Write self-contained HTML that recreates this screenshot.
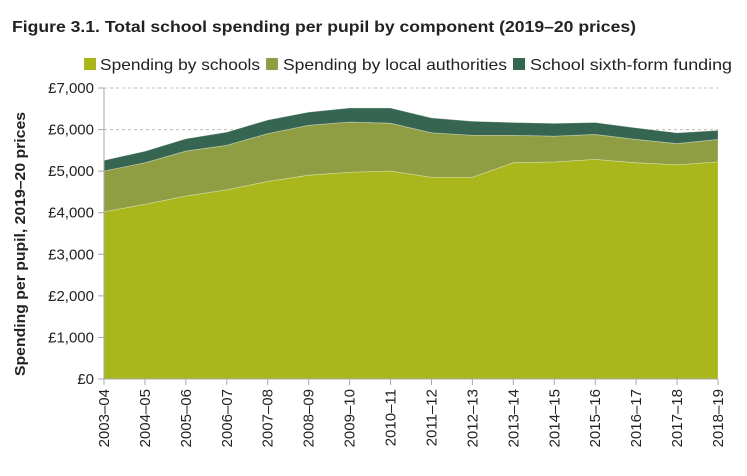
<!DOCTYPE html>
<html><head><meta charset="utf-8"><style>
body{margin:0;background:#fff;font-family:"Liberation Sans",sans-serif;}
svg text{font-family:"Liberation Sans",sans-serif;}
</style></head><body>
<svg id="chart" width="747" height="471">
<text x="12" y="32" font-size="16" font-weight="bold" fill="#222" textLength="624" lengthAdjust="spacingAndGlyphs">Figure 3.1.  Total school spending per pupil by component (2019–20 prices)</text>
<g>
<rect x="84" y="58" width="12" height="12" fill="#a9b61c"/>
<text x="100" y="70" font-size="16" fill="#222" textLength="160" lengthAdjust="spacingAndGlyphs">Spending by schools</text>
<rect x="266" y="58" width="12" height="12" fill="#8f9e42"/>
<text x="283" y="70" font-size="16" fill="#222" textLength="224" lengthAdjust="spacingAndGlyphs">Spending by local authorities</text>
<rect x="513" y="58" width="12" height="12" fill="#366651"/>
<text x="530" y="70" font-size="16" fill="#222" textLength="202" lengthAdjust="spacingAndGlyphs">School sixth-form funding</text>
</g>
<text transform="translate(25,244) rotate(-90)" text-anchor="middle" font-size="15" font-weight="bold" fill="#222" textLength="264" lengthAdjust="spacingAndGlyphs">Spending per pupil, 2019–20 prices</text>
<g id="plot"></g>
</svg>
<script>
const categories=["2003–04","2004–05","2005–06","2006–07","2007–08","2008–09","2009–10","2010–11","2011–12","2012–13","2013–14","2014–15","2015–16","2016–17","2017–18","2018–19"];
const schools=[4020,4200,4400,4550,4750,4900,4970,5000,4850,4850,5200,5220,5280,5200,5150,5220];
const localAuthorities=[980,1000,1080,1070,1150,1200,1210,1150,1070,1010,660,620,600,560,510,540];
const sixthForm=[260,280,300,320,330,320,340,370,360,340,310,310,290,280,260,220];
const yTicks=[0,1000,2000,3000,4000,5000,6000,7000];
const yTickLabels=["£0","£1,000","£2,000","£3,000","£4,000","£5,000","£6,000","£7,000"];
const X0=104,X1=718,Y0=379,Y1=88,YMAX=7000;
const x=i=>X0+(X1-X0)*i/(categories.length-1);
const y=v=>Y0-(Y0-Y1)*v/YMAX;
const ns="http://www.w3.org/2000/svg";
const g=document.getElementById('plot');
function mk(t,a){const e=document.createElementNS(ns,t);for(const k in a)e.setAttribute(k,a[k]);g.appendChild(e);return e;}
yTicks.forEach((v,i)=>{
 if(v>0){const l=mk('line',{x1:X0,x2:X1,y1:y(v),y2:y(v),stroke:'#bbb','stroke-dasharray':'3,3'});
 
 }
 const t=mk('line',{x1:X0-6,x2:X0,y1:y(v),y2:y(v),stroke:'#aaa'});
 
 
 const tx=mk('text',{x:X0-10,y:y(v)+5,'text-anchor':'end','font-size':'15',fill:'#222'});
 tx.textContent=yTickLabels[i];
 
 
});
const c1=schools, c2=schools.map((v,i)=>v+localAuthorities[i]), c3=c2.map((v,i)=>v+sixthForm[i]);
function area(top,bot,fill,name){
 let d='M'+top.map((v,i)=>x(i)+','+y(v)).join('L');
 for(let i=bot.length-1;i>=0;i--)d+='L'+x(i)+','+y(bot[i]);
 const p=mk('path',{d:d+'Z',fill:fill,stroke:'#fff','stroke-opacity':0.35,'stroke-width':0.8});
 
 
}
const zero=categories.map(()=>0);
area(c3,c2,'#366651','area-sixth-form');
area(c2,c1,'#8f9e42','area-local-authorities');
area(c1,zero,'#a9b61c','area-schools');
const ax=mk('line',{x1:X0,x2:X0,y1:Y1,y2:Y0,stroke:'#aaa'});


const bx=mk('line',{x1:X0,x2:X1,y1:Y0,y2:Y0,stroke:'#aaa'});


categories.forEach((c,i)=>{
 const t=mk('line',{x1:x(i),x2:x(i),y1:Y0,y2:Y0+6,stroke:'#aaa'});
 
 
 const tx=mk('text',{transform:`translate(${x(i)+5},${Y0+10}) rotate(-90)`,'text-anchor':'end','font-size':'15',fill:'#222'});
 tx.textContent=c;
 
 
});
</script>
</body></html>
